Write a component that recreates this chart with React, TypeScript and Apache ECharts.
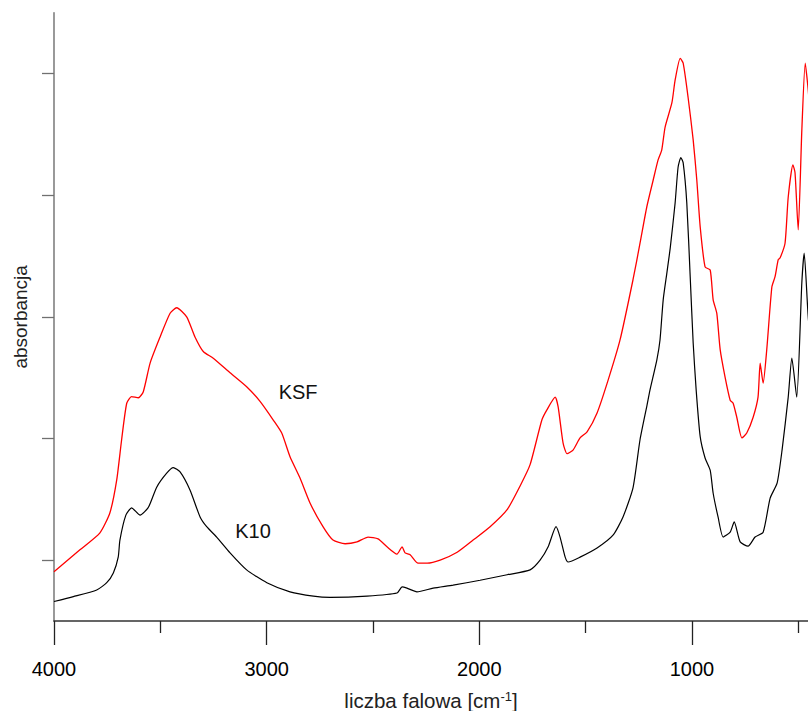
import React, { useEffect, useRef } from "react";
import * as echarts from "echarts";

const xTickLabels = [1000, 2000, 3000, 4000];
const xMinorTicks = [500, 1500, 2500, 3500];
const yTicks = [10, 30, 50, 70, 90];

const ksfWavenumber = [
  4000, 3878, 3784, 3737, 3705, 3682, 3658, 3635, 3603, 3580, 3548, 3501, 3454, 3423, 3376, 3337,
  3298, 3251, 3172, 3094, 3031, 2968, 2929, 2890, 2843, 2796, 2735, 2688, 2631, 2575, 2523, 2476,
  2434, 2387, 2363, 2349, 2325, 2288, 2245, 2184, 2104, 2029, 1949, 1869, 1808, 1761, 1706, 1682,
  1643, 1629, 1606, 1587, 1559, 1526, 1493, 1446, 1394, 1338, 1277, 1244, 1212, 1182, 1159, 1142,
  1126, 1094, 1079, 1055, 1041, 1018, 994, 977, 961, 938, 914, 900, 883, 867, 844, 820, 806, 789,
  765, 742, 712, 689, 679, 665, 648, 624, 609, 594, 585, 562, 547, 525, 515, 500, 483, 467, 453, 430,
];
const ksfAbsorbance = [
  8.1, 11.7, 14.5, 17.8, 23.2, 29.8, 35.8, 36.9, 36.7, 37.7, 42.4, 46.7, 50.6, 51.5, 50.0, 46.7,
  44.3, 43.2, 40.8, 38.5, 36.1, 33.0, 30.9, 27.0, 23.5, 19.4, 15.5, 13.3, 12.7, 13.0, 13.8, 13.5,
  12.2, 11.0, 12.2, 11.2, 10.9, 9.5, 9.5, 10.0, 11.3, 13.3, 15.5, 18.3, 22.2, 25.7, 33.0, 34.7,
  36.8, 35.2, 29.3, 27.5, 28.1, 30.1, 31.1, 34.2, 39.6, 46.2, 56.1, 62.1, 68.1, 72.5, 75.8, 77.4,
  81.2, 85.2, 88.9, 92.5, 91.7, 86.1, 79.1, 72.5, 64.8, 58.2, 57.7, 52.8, 50.6, 44.6, 40.1, 36.3,
  35.8, 33.5, 30.1, 30.9, 33.5, 36.8, 42.4, 39.1, 44.6, 54.9, 56.6, 59.4, 59.7, 62.1, 69.7, 75.0,
  73.7, 64.3, 80.7, 91.7, 87.3, 78.0,
];

const k10Wavenumber = [
  4000, 3909, 3799, 3752, 3721, 3698, 3690, 3662, 3635, 3595, 3556, 3517, 3470, 3439, 3407, 3360,
  3313, 3282, 3235, 3172, 3094, 2999, 2890, 2780, 2702, 2528, 2387, 2363, 2340, 2293, 2217, 2123,
  1996, 1869, 1761, 1714, 1676, 1639, 1620, 1596, 1582, 1526, 1446, 1371, 1324, 1277, 1244, 1211,
  1197, 1165, 1150, 1135, 1117, 1102, 1079, 1065, 1052, 1041, 1024, 1008, 994, 980, 961, 938, 914,
  900, 877, 853, 820, 801, 773, 736, 703, 665, 632, 599, 576, 547, 530, 507, 483, 472, 453, 430,
];
const k10Absorbance = [
  3.2, 4.0, 5.1, 6.3, 7.9, 10.5, 13.3, 17.4, 18.6, 17.4, 18.7, 22.0, 24.3, 25.2, 24.5, 21.5, 17.1,
  15.5, 13.8, 11.2, 8.4, 6.3, 4.8, 4.1, 3.9, 4.1, 4.6, 5.6, 5.4, 4.8, 5.4, 5.9, 6.7, 7.6, 8.4, 10.0,
  12.2, 15.5, 13.8, 10.5, 9.7, 10.5, 12.0, 14.1, 17.1, 21.9, 29.8, 35.5, 38.0, 42.9, 46.2, 52.8,
  57.4, 61.3, 68.7, 74.6, 76.2, 75.3, 68.7, 56.6, 45.7, 38.0, 30.3, 26.8, 24.8, 21.0, 17.1, 13.8,
  14.6, 16.3, 13.0, 12.3, 13.8, 14.6, 20.2, 22.7, 28.1, 36.8, 43.2, 36.8, 55.6, 60.5, 50.0, 42.0,
];

const seriesLabels = [
  { text: "KSF", wavenumber: 2852, absorbance: 37.6 },
  { text: "K10", wavenumber: 3064, absorbance: 14.8 },
];

const pairs = (xs: number[], ys: number[]) => xs.map((x, i) => [x, ys[i]]);

export default function App() {
  const ref = useRef<HTMLDivElement>(null);
  useEffect(() => {
    document.body.style.margin = "0";
    document.body.style.overflow = "hidden";
    const chart = echarts.init(ref.current!, null, { renderer: "svg" });
    const font = "'Liberation Sans', Arial, sans-serif";
    const labelFor = (i: number) => ({
      symbol: "circle",
      symbolSize: 0,
      label: {
        show: true,
        position: "inside",
        formatter: seriesLabels[i].text,
        fontSize: 20,
        fontFamily: font,
        color: "#111111",
      },
      data: [{ coord: [seriesLabels[i].wavenumber, seriesLabels[i].absorbance] }],
    });
    chart.setOption({
      animation: false,
      backgroundColor: "#ffffff",
      grid: { left: 54, right: 0, top: 12.7, bottom: 90, containLabel: false, outerBoundsMode: "none" },
      xAxis: [
        {
          type: "value",
          inverse: true,
          min: 454,
          max: 4000,
          position: "bottom",
          splitLine: { show: false },
          axisLine: { show: true, lineStyle: { color: "#333333", width: 1.6 } },
          axisTick: {
            show: true,
            inside: false,
            length: 24,
            customValues: xTickLabels,
            lineStyle: { color: "#222222", width: 1.3 },
          },
          axisLabel: {
            customValues: xTickLabels,
            formatter: (v: number) => String(v),
            margin: 38,
            fontSize: 20,
            fontFamily: font,
            color: "#000000",
          },
          name: "liczba falowa [cm{sup|-1}]",
          nameLocation: "middle",
          nameGap: 69,
          nameTextStyle: {
            fontSize: 20.5,
            fontFamily: font,
            color: "#222222",
            rich: {
              sup: { fontSize: 13, fontFamily: font, color: "#222222", verticalAlign: "top", padding: [0, 0, 8, 0] },
            },
          },
        },
        {
          type: "value",
          inverse: true,
          min: 454,
          max: 4000,
          position: "bottom",
          offset: 0,
          splitLine: { show: false },
          axisLine: { show: false },
          axisTick: {
            show: true,
            length: 12,
            customValues: xMinorTicks,
            lineStyle: { color: "#222222", width: 1.3 },
          },
          axisLabel: { show: false },
        },
      ],
      yAxis: {
        type: "value",
        min: 0,
        max: 100,
        splitLine: { show: false },
        axisLine: { show: true, lineStyle: { color: "#808080", width: 1.6 } },
        axisTick: {
          show: true,
          length: 12,
          customValues: yTicks,
          lineStyle: { color: "#707070", width: 1.3 },
        },
        axisLabel: { show: false },
        name: "absorbancja",
        nameLocation: "middle",
        nameRotate: 90,
        nameGap: 24,
        nameTextStyle: { fontSize: 19, fontFamily: font, color: "#222222" },
      },
      series: [
        {
          name: "KSF",
          type: "line",
          data: pairs(ksfWavenumber, ksfAbsorbance),
          showSymbol: false,
          smooth: 0.2,
          lineStyle: { color: "#ff0000", width: 1.3 },
          markPoint: labelFor(0),
        },
        {
          name: "K10",
          type: "line",
          data: pairs(k10Wavenumber, k10Absorbance),
          showSymbol: false,
          smooth: 0.2,
          lineStyle: { color: "#000000", width: 1.2 },
          markPoint: labelFor(1),
        },
      ],
    });
    return () => chart.dispose();
  }, []);
  return <div ref={ref} style={{ width: 808, height: 711 }} />;
}
